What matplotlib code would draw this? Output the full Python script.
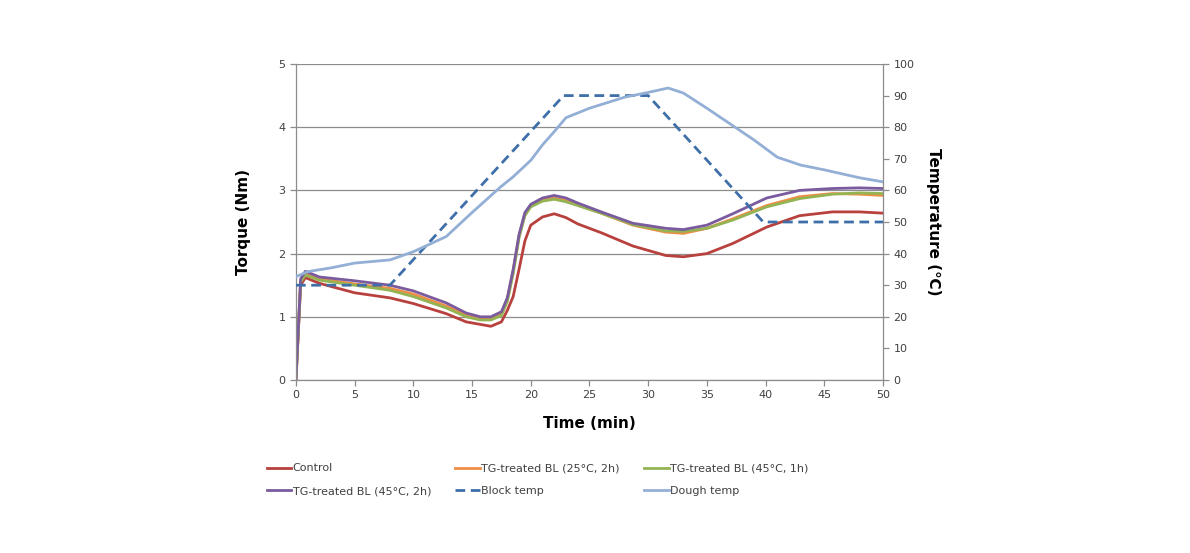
import matplotlib.pyplot as plt
import numpy as np

plt.rcParams['font.family'] = ['DejaVu Sans', 'Noto Sans CJK KR']

# torque series (Nm) vs time (min)
t_torque = [0, 0.4, 0.8, 2, 5, 8, 10, 12.8, 14.5, 15.7, 16.6, 17.5, 18, 18.5, 19, 19.5,
            20, 21, 22, 23, 24, 26, 28.7, 31.5, 33, 35, 37.2, 40.1, 42.9, 45.7, 48, 50]
control = [0, 1.5, 1.62, 1.53, 1.38, 1.3, 1.21, 1.05, 0.92, 0.88, 0.85, 0.92, 1.1, 1.32, 1.75, 2.2,
           2.45, 2.58, 2.63, 2.57, 2.47, 2.33, 2.12, 1.97, 1.95, 2.0, 2.16, 2.42, 2.6, 2.66, 2.66, 2.64]
tg_25_2h = [0, 1.57, 1.68, 1.6, 1.52, 1.45, 1.36, 1.17, 1.03, 0.97, 0.98, 1.05, 1.28, 1.72, 2.28, 2.62,
            2.76, 2.85, 2.88, 2.84, 2.77, 2.64, 2.45, 2.34, 2.32, 2.4, 2.55, 2.76, 2.9, 2.95, 2.94, 2.92]
tg_45_1h = [0, 1.55, 1.66, 1.58, 1.5, 1.42, 1.32, 1.14, 1.0, 0.95, 0.95, 1.02, 1.24, 1.68, 2.25, 2.6,
            2.74, 2.83, 2.86, 2.82, 2.76, 2.64, 2.46, 2.36, 2.35, 2.4, 2.53, 2.74, 2.87, 2.94, 2.96, 2.95]
tg_45_2h = [0, 1.6, 1.72, 1.63, 1.57, 1.5, 1.41, 1.22, 1.06, 1.0, 1.0, 1.08, 1.3, 1.75, 2.3, 2.65,
            2.78, 2.88, 2.92, 2.88, 2.8, 2.66, 2.48, 2.4, 2.38, 2.45, 2.63, 2.88, 3.0, 3.03, 3.04, 3.03]

# temperatures (C)
t_block = [0, 8, 22.8, 30, 39.8, 50]
block_temp = [30, 30, 90, 90, 50, 50]
t_dough = [0, 1, 3, 5, 8, 10, 12.8, 15, 17.4, 18.5, 20, 21, 22, 23, 25, 28, 30, 31.7,
           33, 35, 37, 39, 41, 43, 45, 48, 50]
dough_temp = [32.7, 34.3, 35.5, 37, 38, 40.6, 45.4, 53, 61, 64.3, 69.5, 74.4, 78.6, 83, 86, 89.5, 91, 92.4,
              90.8, 86, 81, 76, 70.5, 68, 66.5, 64, 62.7]

fig = plt.figure(figsize=(11.9, 5.53), dpi=100)
ax = fig.add_axes([0.2487, 0.3128, 0.4933, 0.5715])
ax2 = ax.twinx()

lw = 2.0
l1, = ax.plot(t_torque, control, color='#B8413E', lw=lw, label='Control')
l2, = ax.plot(t_torque, tg_25_2h, color='#F08D45', lw=lw, label='TG-treated BL (25\u00b0C, 2h)')
l3, = ax.plot(t_torque, tg_45_1h, color='#94B454', lw=lw, label='TG-treated BL (45\u00b0C, 1h)')
l4, = ax.plot(t_torque, tg_45_2h, color='#7A5B9E', lw=lw, label='TG-treated BL (45\u00b0C, 2h)')
l5, = ax2.plot(t_block, block_temp, color='#3F6FA8', lw=lw, linestyle=(0, (3.5, 2)), label='Block temp')
l6, = ax2.plot(t_dough, dough_temp, color='#93AFD6', lw=lw, label='Dough temp')

ax.set_xlim(0, 50)
ax.set_ylim(0, 5)
ax2.set_ylim(0, 100)
ax.set_xticks(np.arange(0, 51, 5))
ax.set_yticks(np.arange(0, 6, 1))
ax2.set_yticks(np.arange(0, 101, 10))

ax.grid(axis='y', color='#8C8C8C', lw=0.9)
ax.set_axisbelow(True)
for a in (ax, ax2):
    for s in a.spines.values():
        s.set_visible(False)
    a.tick_params(labelsize=8, labelcolor='#404040', color='#8C8C8C', length=4, width=0.9)
ax.spines['left'].set_visible(True)
ax.spines['bottom'].set_visible(True)
ax2.spines['right'].set_visible(True)
for s in (ax.spines['left'], ax.spines['bottom'], ax2.spines['right']):
    s.set_color('#8C8C8C')
    s.set_linewidth(0.9)

ax.set_xlabel('Time (min)', fontsize=11, fontweight='bold', labelpad=11)
ax.set_ylabel('Torque (Nm)', fontsize=11, fontweight='bold', labelpad=20)
ax2.set_ylabel('Temperature (\u2103)', fontsize=11, fontweight='bold', labelpad=8,
               rotation=270, va='bottom')

# legend laid out in three columns like the original
cols = [([l1, l4], 0.216), ([l2, l5], 0.374), ([l3, l6], 0.533)]
for handles, x in cols:
    fig.legend(handles=handles, loc='upper left', bbox_to_anchor=(x, 0.18),
               frameon=False, fontsize=8, handlelength=2.2, handletextpad=0.1,
               labelspacing=1.15, labelcolor='#404040')

fig.savefig('out.png', dpi=100)
